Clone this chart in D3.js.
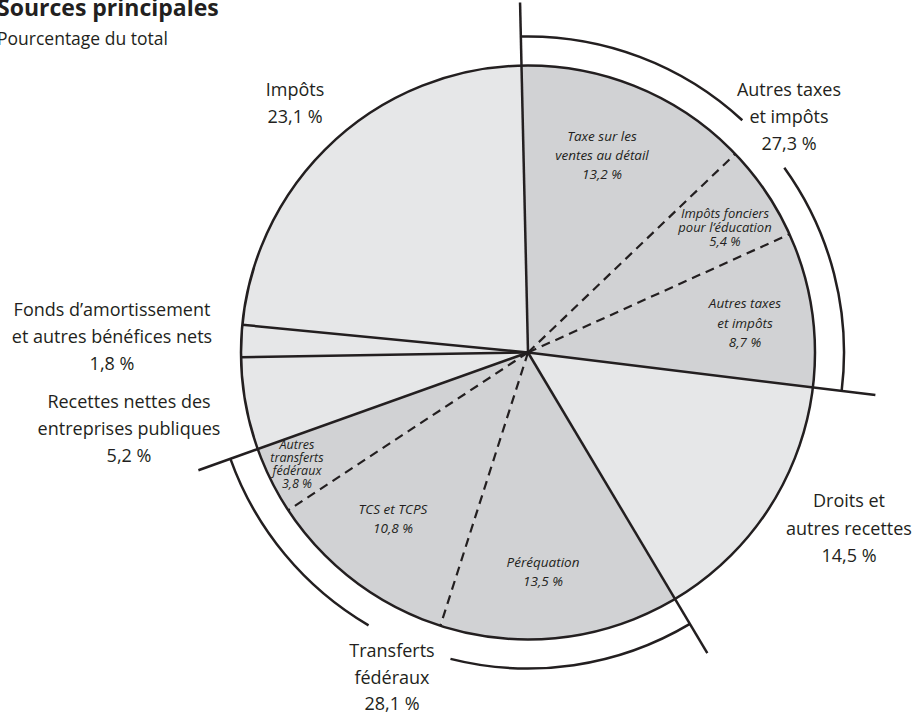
<!DOCTYPE html>
<html lang="fr">
<head>
<meta charset="utf-8">
<script src="https://cdn.jsdelivr.net/npm/d3@7"></script>
<style>
  html, body { margin: 0; padding: 0; background: #fff; }
  svg { display: block; }
  text { font-family: "Open Sans", "Noto Sans", sans-serif; fill: #231f20; }
</style>
</head>
<body>
<svg id="chart" width="917" height="715"></svg>
<script>
// Revenue sources, percent of total, clockwise from the top
const sliceNames = [
  "Taxe sur les ventes au détail",
  "Impôts fonciers pour l’éducation",
  "Autres taxes et impôts",
  "Droits et autres recettes",
  "Péréquation",
  "TCS et TCPS",
  "Autres transferts fédéraux",
  "Recettes nettes des entreprises publiques",
  "Fonds d’amortissement et autres bénéfices nets",
  "Impôts"
];
const sliceValues = [13.2, 5.4, 8.7, 14.5, 13.5, 10.8, 3.8, 5.2, 1.8, 23.1];
const sliceGroups = ["taxes", "taxes", "taxes", "droits", "transferts", "transferts", "transferts", "recettes", "fonds", "impots"];

// Groups that are split into sub-slices
const groupKeys = ["taxes", "transferts"];
const groupNames = ["Autres taxes et impôts", "Transferts fédéraux"];
const groupValues = [27.3, 28.1];

// Printed labels (lines of text)
const sliceLabelLines = [
  ["Taxe sur les", "ventes au détail", "13,2 %"],
  ["Impôts fonciers", "pour l’éducation", "5,4 %"],
  ["Autres taxes", "et impôts", "8,7 %"],
  ["Droits et", "autres recettes", "14,5 %"],
  ["Péréquation", "13,5 %"],
  ["TCS et TCPS", "10,8 %"],
  ["Autres", "transferts", "fédéraux", "3,8 %"],
  ["Recettes nettes des", "entreprises publiques", "5,2 %"],
  ["Fonds d’amortissement", "et autres bénéfices nets", "1,8 %"],
  ["Impôts", "23,1 %"]
];
const groupLabelLines = [
  ["Autres taxes", "et impôts", "27,3 %"],
  ["Transferts", "fédéraux", "28,1 %"]
];

// ---- layout ----
const cx = 528, cy = 352.5, R = 287;
const bracketR = 316, extR = 350;
const deg = Math.PI / 180;
const start = -1.3 * deg;
const ink = "#231f20";
const lightFill = "#e6e7e8", darkFill = "#d1d2d4";

// label anchors: [x of centre, baseline of first line, line step, font size, italic]
const sliceLabelPos = [
  [602, 141, 19, 13.5, true],
  [725, 218, 14, 13, true],
  [745, 308, 19.5, 13.5, true],
  [849, 507, 27.5, 18, false],
  [543, 567, 18.5, 13.5, true],
  [393, 514, 19, 13.5, true],
  [297, 449, 13, 12.5, true],
  [129, 408, 27, 18, false],
  [112, 316, 27, 18, false],
  [295, 96, 26.5, 18, false]
];
const groupLabelPos = [
  [789, 96, 27, 18],
  [392, 657, 26.5, 18]
];
// bracket gaps (degrees clockwise from top) leaving room for group labels
const bracketGaps = [[42.7, 54.2], [194.2, 210.3]];

const svg = d3.select("#chart");
const g = svg.append("g").attr("transform", `translate(${cx},${cy})`);

const data = sliceNames.map((n, i) => ({ name: n, value: sliceValues[i], group: sliceGroups[i], i }));
const pie = d3.pie().sort(null).value(d => d.value).startAngle(start).endAngle(start + 2 * Math.PI);
const arcs = pie(data);
const arc = d3.arc().innerRadius(0).outerRadius(R);

// slices
g.selectAll("path.slice").data(arcs).join("path")
  .attr("class", "slice")
  .attr("d", arc)
  .attr("fill", d => groupKeys.includes(d.data.group) ? darkFill : lightFill)
  .attr("stroke", "none");

const pt = (a, r) => [Math.sin(a) * r, -Math.cos(a) * r];

// group extents
const groupArcs = groupKeys.map(k => {
  const members = arcs.filter(a => a.data.group === k);
  return { key: k, startAngle: d3.min(members, m => m.startAngle), endAngle: d3.max(members, m => m.endAngle) };
});
const groupEdges = new Set();
groupArcs.forEach(ga => { groupEdges.add(ga.startAngle.toFixed(6)); groupEdges.add(ga.endAngle.toFixed(6)); });

// radial boundaries: dashed inside a group, solid between groups
arcs.forEach((a, i) => {
  const prev = arcs[(i - 1 + arcs.length) % arcs.length];
  const inside = prev.data.group === a.data.group;
  const isEdge = groupEdges.has(a.startAngle.toFixed(6)) || groupEdges.has((a.startAngle + 2 * Math.PI).toFixed(6));
  const r = isEdge ? extR : R;
  const [x, y] = pt(a.startAngle, r);
  g.append("line")
    .attr("x1", 0).attr("y1", 0).attr("x2", x).attr("y2", y)
    .attr("stroke", ink)
    .attr("stroke-width", inside ? 2.2 : 2.5)
    .attr("stroke-dasharray", inside ? "9,6" : null);
});

// outer circle
g.append("circle").attr("r", R).attr("fill", "none").attr("stroke", ink).attr("stroke-width", 2.5);

// brackets round the split groups
const bracketArc = d3.arc().innerRadius(bracketR).outerRadius(bracketR);
groupArcs.forEach((ga, i) => {
  const [g0, g1] = bracketGaps[i].map(v => v * deg);
  [[ga.startAngle, g0], [g1, ga.endAngle]].forEach(([a0, a1]) => {
    g.append("path")
      .attr("d", bracketArc({ startAngle: a0, endAngle: a1 }))
      .attr("fill", "none").attr("stroke", ink).attr("stroke-width", 2.5);
  });
});

// text labels
function drawLines(lines, x, y, step, size, italic) {
  const t = svg.append("text")
    .attr("text-anchor", "middle")
    .attr("font-size", size)
    .attr("font-style", italic ? "italic" : "normal");
  lines.forEach((s, k) => t.append("tspan").attr("x", x).attr("y", y + k * step).text(s));
}
sliceLabelLines.forEach((lines, i) => {
  const [x, y, step, size, it] = sliceLabelPos[i];
  drawLines(lines, x, y, step, size, it);
});
groupLabelLines.forEach((lines, i) => {
  const [x, y, step, size] = groupLabelPos[i];
  drawLines(lines, x, y, step, size, false);
});

// title
svg.append("text").attr("x", -3).attr("y", 16).attr("font-size", 23).attr("font-weight", "bold").text("Sources principales");
svg.append("text").attr("x", -3).attr("y", 45).attr("font-size", 17.5).text("Pourcentage du total");
</script>
</body>
</html>
